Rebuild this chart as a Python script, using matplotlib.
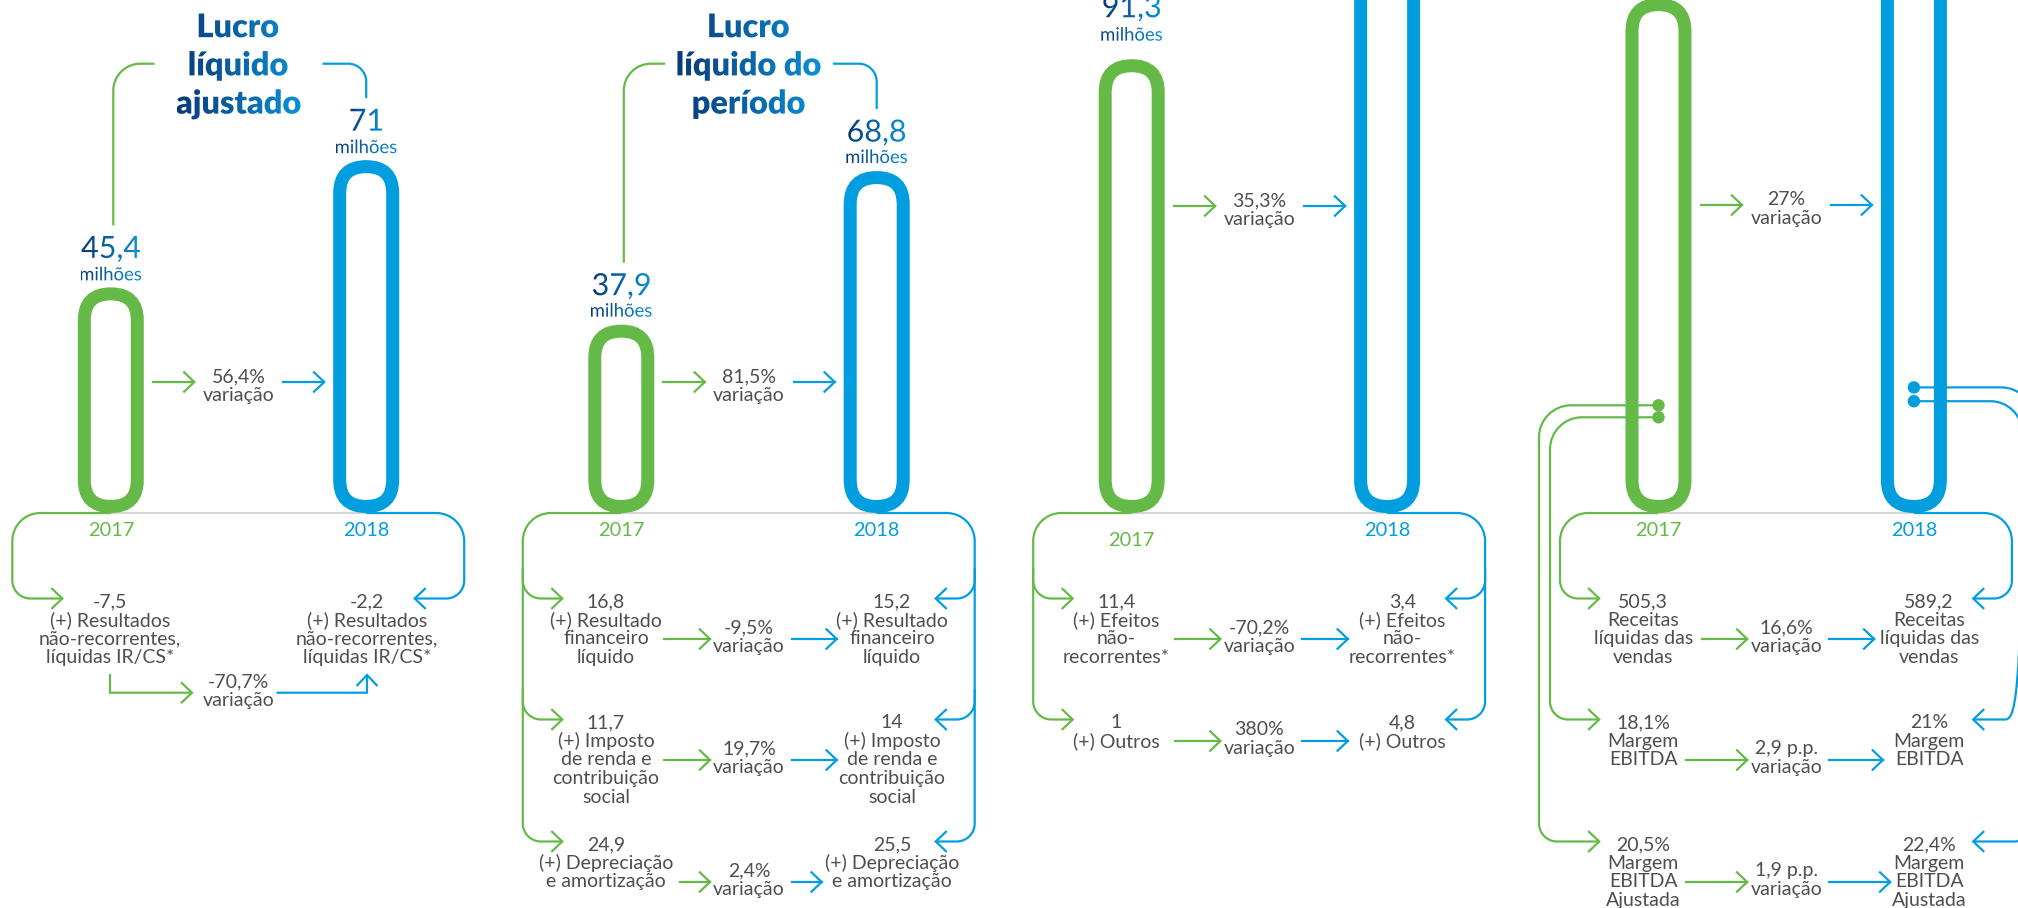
import numpy as np
import matplotlib
matplotlib.use("Agg")
import matplotlib.pyplot as plt
import matplotlib.transforms as mtransforms
from matplotlib.path import Path
from matplotlib.patches import PathPatch, FancyBboxPatch, Circle
from matplotlib.textpath import TextPath
from matplotlib.font_manager import FontProperties
from matplotlib.colors import LinearSegmentedColormap

# totals in R$ millions
years = ["2017", "2018"]
titles = [["Lucro", "líquido", "ajustado"], ["Lucro", "líquido do", "período"], None, None]
total_2017 = [45.4, 37.9, 91.3, 103.6]
total_2018 = [71.0, 68.8, 123.5, 131.6]
total_change = [56.4, 81.5, 35.3, 27.0]

# breakdown rows
p1_items = ["(+) Resultados\nnão-recorrentes,\nlíquidas IR/CS*"]
p1_2017 = [-7.5]
p1_2018 = [-2.2]
p1_change = [-70.7]

p2_items = ["(+) Resultado\nfinanceiro\nlíquido",
            "(+) Imposto\nde renda e\ncontribuição\nsocial",
            "(+) Depreciação\ne amortização"]
p2_2017 = [16.8, 11.7, 24.9]
p2_2018 = [15.2, 14.0, 25.5]
p2_change = [-9.5, 19.7, 2.4]

p3_items = ["(+) Efeitos\nnão-\nrecorrentes*", "(+) Outros"]
p3_2017 = [11.4, 1.0]
p3_2018 = [3.4, 4.8]
p3_change = [-70.2, 380.0]

p4_items = ["Receitas\nlíquidas das\nvendas", "Margem\nEBITDA", "Margem\nEBITDA\nAjustada"]
p4_2017 = [505.3, 18.1, 20.5]
p4_2018 = [589.2, 21.0, 22.4]
p4_change = [16.6, 2.9, 1.9]
p4_units = ["", "%", "%"]
p4_change_units = ["%", " p.p.", " p.p."]

GREEN = "#64b947"
BLUE = "#009ddf"
NAVY = "#0a3a78"
SKY = "#0a90d6"
GREY = "#4e4e4e"
FONT = "Lato"

DPI = 100
W, H = 2018, 908
BASE = 513          # y of the baseline (px)
K = 4.97            # px per million
PILL_W, STROKE = 66, 13
LW = 2.2
ROW_Y = [600, 721, 843]
LINE_H = 18.7
TXT = 19.5


def pt(v):
    return v * 72 / DPI


def fmt(v):
    return f"{v:g}".replace(".", ",")


fig = plt.figure(figsize=(W / DPI, H / DPI), dpi=DPI)
ax = fig.add_axes([0, 0, 1, 1])
ax.axis("off")
cmap = LinearSegmentedColormap.from_list("navy_sky", [NAVY, SKY])

KAPPA = 0.5523


def rounded(pts, radii, color, z=1):
    verts = [pts[0]]
    codes = [Path.MOVETO]
    for i in range(1, len(pts) - 1):
        p0, p1, p2 = (np.asarray(p, float) for p in pts[i - 1:i + 2])
        r = radii[i - 1]
        d1 = (p1 - p0) / np.hypot(*(p1 - p0))
        d2 = (p2 - p1) / np.hypot(*(p2 - p1))
        a, b = p1 - d1 * r, p1 + d2 * r
        verts += [a, a + d1 * r * KAPPA, b - d2 * r * KAPPA, b]
        codes += [Path.LINETO, Path.CURVE4, Path.CURVE4, Path.CURVE4]
    verts.append(pts[-1])
    codes.append(Path.LINETO)
    ax.add_patch(PathPatch(Path(verts, codes), fill=False, ec=color,
                           lw=pt(LW), capstyle="butt", zorder=z))


def head(x, y, d, color, s=11):
    bx, by = {"r": (-1, 0), "l": (1, 0), "u": (0, 1)}[d]
    nx, ny = -by, bx
    xs = [x + bx * s + nx * s * 0.95, x, x + bx * s - nx * s * 0.95]
    ys = [y + by * s + ny * s * 0.95, y, y + by * s - ny * s * 0.95]
    ax.plot(xs, ys, color=color, lw=pt(LW), solid_joinstyle="miter",
            solid_capstyle="butt", zorder=2)


def arrow(x0, x1, y, color):
    ax.plot([x0, x1], [y, y], color=color, lw=pt(LW), zorder=2)
    head(x1, y, "r" if x1 > x0 else "l", color)


def grad_text(x, yb, s, size, weight, gx=None):
    tp = TextPath((0, 0), s, size=size, prop=FontProperties(family=FONT, weight=weight))
    bb = tp.get_extents()
    xs = x - (bb.x0 + bb.x1) / 2
    tr = mtransforms.Affine2D().scale(1, -1).translate(xs, yb) + ax.transData
    patch = PathPatch(tp, transform=tr, fc="none", ec="none", lw=0)
    ax.add_patch(patch)
    g0, g1 = gx if gx else (xs + bb.x0, xs + bb.x1)
    im = ax.imshow(np.linspace(0, 1, 256)[None, :], cmap=cmap, aspect="auto",
                   extent=(g0, g1, yb - bb.y0 + 2, yb - bb.y1 - 2),
                   interpolation="bilinear", zorder=5)
    im.set_clip_path(patch)
    return bb.width


def lines(x, y0, text_lines, color=GREY, size=TXT):
    for j, s in enumerate(text_lines):
        ax.text(x, y0 + j * LINE_H + 0.36 * size, s, ha="center", va="baseline",
                color=color, fontsize=pt(size), family=FONT, zorder=5)


panels = [
    dict(x17=110.8, arrow_y=382, num_gap=29.5, mil_gap=7, year_y=(536, 536),
         spread=128.5, tip=48.5, rows=(p1_items, p1_2017, p1_2018, p1_change,
                                       [""], ["%"]), ext=[None]),
    dict(x17=621.3, arrow_y=382, num_gap=29.5, mil_gap=8, year_y=(536, 536),
         spread=143, tip=59, rows=(p2_items, p2_2017, p2_2018, p2_change,
                                   [""] * 3, ["%"] * 3),
         ext=[(84.7, 87.7), (84.7, 87.7), (69, 72.7)]),
    dict(x17=1131.7, arrow_y=206, num_gap=42, mil_gap=18.6, year_y=(546, 536),
         spread=143, tip=59, rows=(p3_items, p3_2017, p3_2018, p3_change,
                                   [""] * 2, ["%"] * 2),
         ext=[(84.3, 88.4), (84.3, 88.4)]),
    dict(x17=1658.5, arrow_y=205, num_gap=29.5, mil_gap=7, year_y=(536, 536),
         spread=143, tip=59.3, rows=(p4_items, p4_2017, p4_2018, p4_change,
                                     p4_units, p4_change_units),
         ext=[(84.3, 88), (100, 96.7), (100, 104)]),
]
PAIR = 255.4

for p, cfg in enumerate(panels):
    c17 = cfg["x17"]
    c18 = c17 + PAIR
    xm = (c17 + c18) / 2
    tops = []
    for c, v, col in ((c17, total_2017[p], GREEN), (c18, total_2018[p], BLUE)):
        h = v * K
        top = BASE - h
        tops.append(top)
        inner = PILL_W - STROKE
        ax.add_patch(FancyBboxPatch((c - inner / 2, top + STROKE / 2), inner, h - STROKE,
                                    boxstyle=f"round,pad=0,rounding_size={inner / 2}",
                                    fill=False, ec=col, lw=pt(STROKE), zorder=3))
        grad_text(c, top - cfg["num_gap"], fmt(v), 30.5, "normal")
        grad_text(c, top - cfg["mil_gap"], "milhões", 18.5, "normal")

    # baseline and years
    ax.plot([c17, c18], [BASE, BASE], color="#c8c8c8", lw=pt(1.5), zorder=0)
    for c, yr, col, yb in ((c17, years[0], GREEN, cfg["year_y"][0]),
                           (c18, years[1], BLUE, cfg["year_y"][1])):
        ax.text(c, yb, yr, ha="center", va="baseline", color=col,
                fontsize=pt(20), family=FONT, zorder=5)

    # change between totals
    ay = cfg["arrow_y"]
    arrow(c17 + 42, c17 + 83.5, ay, GREEN)
    arrow(c18 - 83, c18 - 42, ay, BLUE)
    lines(xm, ay - 7, [fmt(total_change[p]) + "%", "variação"])

    # title with connectors
    if titles[p]:
        fp = FontProperties(family=FONT, weight="heavy")
        tw = max(TextPath((0, 0), s, size=32.5, prop=fp).get_extents().width for s in titles[p])
        for j, s in enumerate(titles[p]):
            grad_text(xm, 37.2 + j * 38.2, s, 32.5, "heavy", gx=(xm - tw / 2, xm + tw / 2))
        rounded([(xm - 84, 63.7), (c17 + 2.5, 63.7), (c17 + 2.5, tops[0] - 62)], [27], GREEN)
        rounded([(xm + 84, 63.7), (c18, 63.7), (c18, tops[1] - 62)], [18], BLUE)

    # breakdown rows
    items, v17, v18, chg, unit, cunit = cfg["rows"]
    x17, x18 = xm - cfg["spread"], xm + cfg["spread"]
    for i, item in enumerate(items):
        vy = ROW_Y[i]
        body = item.split("\n")
        lines(x17, vy, [fmt(v17[i]) + unit[i]] + body)
        lines(x18, vy, [fmt(v18[i]) + unit[i]] + body)
        if cfg["ext"][i] is None:
            continue
        g0, b1 = cfg["ext"][i]
        ry = vy + (20 if len(body) == 1 else 39)
        arrow(xm - g0, xm - 39, ry, GREEN)
        arrow(xm + 43, xm + b1, ry, BLUE)
        lines(xm, ry - 13, [fmt(chg[i]) + cunit[i], "variação"])

    # loops from the pills down to the rows
    n_loop = 1 if p in (0, 3) else len(items)
    lx_g, lx_b = c17 - 98.5, c18 + 98
    tip_g, tip_b = c17 - cfg["tip"], c18 + cfg["tip"]
    last = ROW_Y[n_loop - 1] - 1.5
    rounded([(c17, BASE), (lx_g, BASE), (lx_g, last), (tip_g, last)], [28, 18], GREEN)
    rounded([(c18, BASE), (lx_b, BASE), (lx_b, last), (tip_b, last)], [28, 18], BLUE)
    head(tip_g, last, "r", GREEN)
    head(tip_b, last, "l", BLUE)
    for i in range(n_loop - 1):
        ry = ROW_Y[i] - 1.5
        rounded([(lx_g, ry - 30), (lx_g, ry), (tip_g, ry)], [18], GREEN)
        rounded([(lx_b, ry - 30), (lx_b, ry), (tip_b, ry)], [18], BLUE)
        head(tip_g, ry, "r", GREEN)
        head(tip_b, ry, "l", BLUE)

    if p == 0:
        # single row: change shown below the labels
        ly = 692.7
        rounded([(x17, 674), (x17, ly), (xm - 46.5, ly)], [0], GREEN)
        head(xm - 46.5, ly, "r", GREEN)
        rounded([(xm + 38, ly), (x18, ly), (x18, 675)], [0], BLUE)
        head(x18, 675, "u", BLUE)
        lines(xm, 680, [fmt(chg[0]) + "%", "variação"])

    if p == 3:
        # margin rows fed from points on the bars
        for (dy_g, dy_b, off, row) in ((405.3, 387.4, 119.5, 2), (417.3, 401.2, 108.5, 1)):
            ry = ROW_Y[row] - 1.5
            rounded([(c17, dy_g), (c17 - off, dy_g), (c17 - off, ry), (tip_g, ry)], [32, 18], GREEN)
            rounded([(c18, dy_b), (c18 + off, dy_b), (c18 + off, ry), (tip_b, ry)], [32, 18], BLUE)
            head(tip_g, ry, "r", GREEN)
            head(tip_b, ry, "l", BLUE)
            ax.add_patch(Circle((c17, dy_g), 5.5, color=GREEN, zorder=4))
            ax.add_patch(Circle((c18, dy_b), 5.5, color=BLUE, zorder=4))

ax.set_xlim(0, W)
ax.set_ylim(H, 0)
fig.savefig("out.png", dpi=DPI, facecolor="white")
